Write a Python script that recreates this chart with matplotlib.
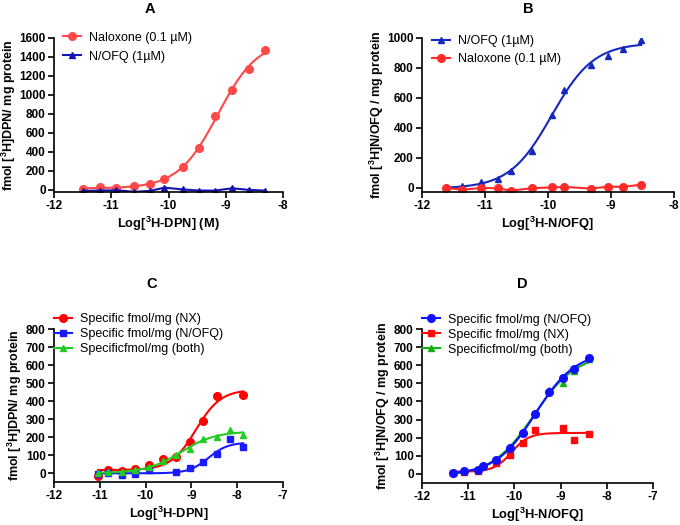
import numpy as np
import matplotlib
matplotlib.use('Agg')
import matplotlib.pyplot as plt

plt.rcParams['font.family'] = ['Liberation Sans', 'DejaVu Sans']
plt.rcParams['mathtext.fontset'] = 'custom'
plt.rcParams['mathtext.rm'] = 'Liberation Sans'
plt.rcParams['mathtext.bf'] = 'Liberation Sans:bold'
plt.rcParams['axes.unicode_minus'] = False

# ---- data ----
# A: [3H]DPN binding
a_x = [-11.49, -11.19, -10.91, -10.60, -10.32, -10.07, -9.75, -9.46, -9.19, -8.89, -8.59, -8.32]
a_naloxone = [10, 35, 18, 42, 63, 119, 238, 438, 781, 1050, 1271, 1470]
a_nofq = [-10, -7, -3, -20, -10, 24, 5, -7, -7, 17, 0, -7]

# B: [3H]N/OFQ binding
b_x = [-11.615, -11.36, -11.06, -10.80, -10.59, -10.26, -9.94, -9.74, -9.32, -9.04, -8.81, -8.52]
b_nofq = [5, 11, 38, 62, 115, 249, 489, 651, 822, 878, 927, 989]
b_naloxone = [0, -11, 0, -2, -18, -2, 4, 7, -4, 9, 7, 22]

# C: specific [3H]DPN binding
c_x = [-11.04, -10.82, -10.51, -10.24, -9.93, -9.63, -9.34, -9.04, -8.75, -8.45, -8.15, -7.87]
c_nx = [-17, 17, 9, 22, 42, 78, 90, 172, 289, 428, None, 433]
c_nofq = [-8, -2, -11, -8, 15, None, 5, 26, 61, 103, 187, 144]
c_both = [0, 5, 3, 15, 32, 65, 100, 135, 187, 202, 237, 211]

# D: specific [3H]N/OFQ binding
d_x = [-11.33, -11.09, -10.78, -10.69, -10.39, -10.09, -9.82, -9.55, -9.25, -8.94, -8.72, -8.38]
d_nofq = [5, 17, 24, 42, 79, 144, 228, 329, 455, 529, 579, 640]
d_nx = [5, 11, 17, None, 61, 103, 172, 242, None, 252, 187, 220]
d_both = [6, 16, 25, 40, 82, 150, 232, 335, 465, 500, 567, 632]


def clean(x, y):
    pts = [(a, b) for a, b in zip(x, y) if b is not None]
    return np.array([p[0] for p in pts]), np.array([p[1] for p in pts])


def logistic_fit(x, y):
    # four-parameter logistic, least squares on a grid of EC50 / Hill
    best = None
    for hill in np.linspace(0.4, 3.0, 53):
        for ec in np.linspace(x.min() - 0.5, x.max() + 1.0, 240):
            s = 1.0 / (1.0 + 10 ** ((ec - x) * hill))
            A = np.column_stack([1 - s, s])
            coef, *_ = np.linalg.lstsq(A, y, rcond=None)
            rss = np.sum((A @ coef - y) ** 2)
            if best is None or rss < best[0]:
                best = (rss, ec, hill, coef)
    _, ec, hill, (bottom, top) = best
    xx = np.linspace(x.min(), x.max(), 200)
    s = 1.0 / (1.0 + 10 ** ((ec - xx) * hill))
    return xx, bottom + (top - bottom) * s


def fitted(ax, x, y, color, marker, label, ms=5.5):
    x, y = clean(x, y)
    xx, yy = logistic_fit(x, y)
    ax.plot(xx, yy, color=color, lw=1.5)
    ax.plot(x, y, ls='none', marker=marker, color=color, ms=ms)
    ax.plot([], [], color=color, marker=marker, ms=ms, lw=1.5, label=label)


def connected(ax, x, y, color, marker, label, ms=5.5):
    x, y = clean(x, y)
    ax.plot(x, y, color=color, marker=marker, ms=ms, lw=1.5, label=label)


def style(ax, xlim, xticks, ylim, yticks, xlabel, ylabel):
    ax.set_xlim(xlim)
    ax.set_ylim(ylim)
    ax.set_xticks(xticks)
    ax.set_yticks(yticks)
    ax.spines['top'].set_visible(False)
    ax.spines['right'].set_visible(False)
    ax.spines['left'].set_linewidth(1.2)
    ax.spines['bottom'].set_linewidth(1.2)
    ax.tick_params(direction='out', length=4, width=1.2, labelsize=8.5, pad=2)
    for t in ax.get_xticklabels() + ax.get_yticklabels():
        t.set_fontweight('bold')
    ax.set_xlabel(xlabel, fontsize=9.3, fontweight='bold', labelpad=2)
    ax.set_ylabel(ylabel, fontsize=9, fontweight='bold', labelpad=1)


def legend(ax, handles=None, labels=None, anchor=(0, 1), spacing=0.45):
    if handles is None:
        handles, labels = ax.get_legend_handles_labels()
    ax.legend(handles, labels, loc='upper left', bbox_to_anchor=anchor, frameon=False,
              fontsize=9, handlelength=1.4, handletextpad=0.7, labelspacing=spacing,
              borderaxespad=0, borderpad=0)


fig = plt.figure(figsize=(6.8, 5.25), dpi=100)
W, H = 680, 525


def axes_px(left, right, top, bottom):
    return fig.add_axes([left / W, 1 - bottom / H, (right - left) / W, (bottom - top) / H])


axA = axes_px(54, 283, 38, 192)
axB = axes_px(422, 674, 38, 192)
axC = axes_px(54, 283, 329, 482)
axD = axes_px(422, 653, 329, 483)

# A
red_a = '#ff4848'
blue_a = '#1414b4'
fitted(axA, a_x, a_naloxone, red_a, 'o', 'Naloxone (0.1 µM)')
connected(axA, a_x, a_nofq, blue_a, '^', 'N/OFQ (1µM)', ms=5)
style(axA, (-12, -8), [-12, -11, -10, -9, -8], (-22, 1600), range(0, 1601, 200),
      r'Log[$^\mathbf{3}$H-DPN] (M)', r'fmol [$^\mathbf{3}$H]DPN/ mg protein')
legend(axA, anchor=(0.04, 1.04), spacing=0.55)

# B
blue_b = '#1428c0'
red_b = '#ff2a2a'
fitted(axB, b_x, b_nofq, blue_b, '^', 'N/OFQ (1µM)', ms=5)
connected(axB, b_x, b_naloxone, red_b, 'o', 'Naloxone (0.1 µM)')
style(axB, (-12, -8), [-12, -11, -10, -9, -8], (-27, 1000), range(0, 1001, 200),
      r'Log[$^\mathbf{3}$H-N/OFQ]', r'fmol [$^\mathbf{3}$H]N/OFQ / mg protein')
legend(axB, anchor=(0.04, 1.02), spacing=0.5)

# C
fitted(axC, c_x, c_nx, '#ff0000', 'o', 'Specific fmol/mg (NX)')
fitted(axC, c_x, c_nofq, '#1a1aff', 's', 'Specific fmol/mg (N/OFQ)', ms=5)
fitted(axC, c_x, c_both, '#22cc22', '^', 'Specificfmol/mg (both)', ms=5)
style(axC, (-12, -7), [-12, -11, -10, -9, -8, -7], (-50, 800), range(0, 801, 100),
      r'Log[$^\mathbf{3}$H-DPN]', r'fmol [$^\mathbf{3}$H]DPN/ mg protein')
legend(axC, anchor=(0.0, 1.105), spacing=0.25)

# D
fitted(axD, d_x, d_both, '#12b012', '^', 'Specificfmol/mg (both)', ms=5)
fitted(axD, d_x, d_nx, '#ff0a0a', 's', 'Specific fmol/mg (NX)', ms=5)
fitted(axD, d_x, d_nofq, '#1010ff', 'o', 'Specific fmol/mg (N/OFQ)')
style(axD, (-12, -7), [-12, -11, -10, -9, -8, -7], (-50, 800), range(0, 801, 100),
      r'Log[$^\mathbf{3}$H-N/OFQ]', r'fmol [$^\mathbf{3}$H]N/OFQ / mg protein')
h, l = axD.get_legend_handles_labels()
legend(axD, [h[2], h[1], h[0]], [l[2], l[1], l[0]], anchor=(0.0, 1.10), spacing=0.25)

# panel letters
for letter, x, y in [('A', 150, 9), ('B', 528, 9), ('C', 152, 284), ('D', 522, 284)]:
    fig.text(x / W, 1 - y / H, letter, ha='center', va='center', fontsize=10.5, fontweight='bold')

fig.savefig('out.png', dpi=100)
